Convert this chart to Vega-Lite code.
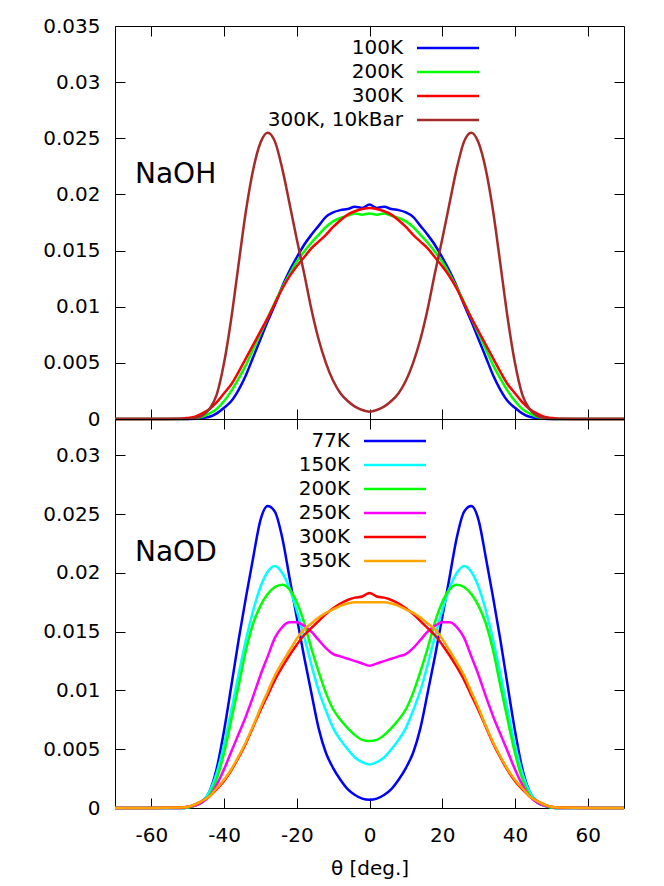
{
"$schema": "https://vega.github.io/schema/vega-lite/v6.json",
"background": "white",
"padding": {"left": 42, "top": 15, "right": 5, "bottom": 5},
"spacing": 0,
"bounds": "flush",
"config": {
  "font": "DejaVu Sans",
  "view": {"stroke": "black", "strokeWidth": 1},
  "axis": {"grid": false, "domain": false, "tickColor": "black", "tickSize": -10, "tickWidth": 1, "labelFont": "DejaVu Sans", "labelFontSize": 20, "labelColor": "black", "titleFont": "DejaVu Sans", "titleFontSize": 20, "titleFontWeight": "normal", "titleColor": "black", "labelOverlap": false},
  "legend": {"labelFont": "DejaVu Sans", "labelFontSize": 20, "labelColor": "black", "labelAlign": "right", "labelOffset": -24, "symbolType": "M 0 0 H 12.4", "symbolSize": 100, "symbolStrokeWidth": 2.5, "rowPadding": 4, "padding": 0, "labelLimit": 300}
},
"resolve": {"scale": {"color": "independent"}, "legend": {"color": "independent"}},
"datasets": {
"top": [
{"s":"100K","x":-70,"y":0},{"s":"100K","x":-60,"y":0},{"s":"100K","x":-52,"y":0},{"s":"100K","x":-50,"y":0},{"s":"100K","x":-48,"y":0.00003},{"s":"100K","x":-46,"y":0.0001},{"s":"100K","x":-44,"y":0.0002},{"s":"100K","x":-42,"y":0.0005},{"s":"100K","x":-40,"y":0.001},{"s":"100K","x":-38,"y":0.0016},{"s":"100K","x":-36,"y":0.0026},{"s":"100K","x":-34,"y":0.0039},{"s":"100K","x":-32,"y":0.0055},{"s":"100K","x":-30,"y":0.0071},{"s":"100K","x":-28,"y":0.0087},{"s":"100K","x":-26,"y":0.0102},{"s":"100K","x":-24,"y":0.0118},{"s":"100K","x":-22,"y":0.0132},{"s":"100K","x":-20,"y":0.0144},{"s":"100K","x":-18,"y":0.0155},{"s":"100K","x":-16,"y":0.0164},{"s":"100K","x":-14,"y":0.0172},{"s":"100K","x":-12,"y":0.018},{"s":"100K","x":-10,"y":0.0184},{"s":"100K","x":-8,"y":0.0186},{"s":"100K","x":-6,"y":0.0187},{"s":"100K","x":-4,"y":0.0189},{"s":"100K","x":-2,"y":0.0188},{"s":"100K","x":0,"y":0.0191},{"s":"100K","x":2,"y":0.0188},{"s":"100K","x":4,"y":0.0189},{"s":"100K","x":6,"y":0.0187},{"s":"100K","x":8,"y":0.0186},{"s":"100K","x":10,"y":0.0184},{"s":"100K","x":12,"y":0.018},{"s":"100K","x":14,"y":0.0172},{"s":"100K","x":16,"y":0.0164},{"s":"100K","x":18,"y":0.0155},{"s":"100K","x":20,"y":0.0144},{"s":"100K","x":22,"y":0.0132},{"s":"100K","x":24,"y":0.0118},{"s":"100K","x":26,"y":0.0102},{"s":"100K","x":28,"y":0.0087},{"s":"100K","x":30,"y":0.0071},{"s":"100K","x":32,"y":0.0055},{"s":"100K","x":34,"y":0.0039},{"s":"100K","x":36,"y":0.0026},{"s":"100K","x":38,"y":0.0016},{"s":"100K","x":40,"y":0.001},{"s":"100K","x":42,"y":0.0005},{"s":"100K","x":44,"y":0.0002},{"s":"100K","x":46,"y":0.0001},{"s":"100K","x":48,"y":0.00003},{"s":"100K","x":50,"y":0},{"s":"100K","x":52,"y":0},{"s":"100K","x":60,"y":0},{"s":"100K","x":70,"y":0},
{"s":"200K","x":-70,"y":0},{"s":"200K","x":-60,"y":0},{"s":"200K","x":-52,"y":0},{"s":"200K","x":-50,"y":0.00003},{"s":"200K","x":-48,"y":0.0001},{"s":"200K","x":-46,"y":0.0002},{"s":"200K","x":-44,"y":0.0005},{"s":"200K","x":-42,"y":0.0009},{"s":"200K","x":-40,"y":0.0016},{"s":"200K","x":-38,"y":0.0025},{"s":"200K","x":-36,"y":0.0036},{"s":"200K","x":-34,"y":0.0048},{"s":"200K","x":-32,"y":0.0062},{"s":"200K","x":-30,"y":0.0076},{"s":"200K","x":-28,"y":0.009},{"s":"200K","x":-26,"y":0.0104},{"s":"200K","x":-24,"y":0.0117},{"s":"200K","x":-22,"y":0.0129},{"s":"200K","x":-20,"y":0.014},{"s":"200K","x":-18,"y":0.0149},{"s":"200K","x":-16,"y":0.0157},{"s":"200K","x":-14,"y":0.0164},{"s":"200K","x":-12,"y":0.0171},{"s":"200K","x":-10,"y":0.0176},{"s":"200K","x":-8,"y":0.0179},{"s":"200K","x":-6,"y":0.0181},{"s":"200K","x":-4,"y":0.0183},{"s":"200K","x":-2,"y":0.0182},{"s":"200K","x":0,"y":0.0183},{"s":"200K","x":2,"y":0.0182},{"s":"200K","x":4,"y":0.0183},{"s":"200K","x":6,"y":0.0181},{"s":"200K","x":8,"y":0.0179},{"s":"200K","x":10,"y":0.0176},{"s":"200K","x":12,"y":0.0171},{"s":"200K","x":14,"y":0.0164},{"s":"200K","x":16,"y":0.0157},{"s":"200K","x":18,"y":0.0149},{"s":"200K","x":20,"y":0.014},{"s":"200K","x":22,"y":0.0129},{"s":"200K","x":24,"y":0.0117},{"s":"200K","x":26,"y":0.0104},{"s":"200K","x":28,"y":0.009},{"s":"200K","x":30,"y":0.0076},{"s":"200K","x":32,"y":0.0062},{"s":"200K","x":34,"y":0.0048},{"s":"200K","x":36,"y":0.0036},{"s":"200K","x":38,"y":0.0025},{"s":"200K","x":40,"y":0.0016},{"s":"200K","x":42,"y":0.0009},{"s":"200K","x":44,"y":0.0005},{"s":"200K","x":46,"y":0.0002},{"s":"200K","x":48,"y":0.0001},{"s":"200K","x":50,"y":0.00003},{"s":"200K","x":52,"y":0},{"s":"200K","x":60,"y":0},{"s":"200K","x":70,"y":0},
{"s":"300K","x":-70,"y":0},{"s":"300K","x":-60,"y":0},{"s":"300K","x":-52,"y":0.00003},{"s":"300K","x":-50,"y":0.0001},{"s":"300K","x":-48,"y":0.0002},{"s":"300K","x":-46,"y":0.0005},{"s":"300K","x":-44,"y":0.0009},{"s":"300K","x":-42,"y":0.0015},{"s":"300K","x":-40,"y":0.0023},{"s":"300K","x":-38,"y":0.0031},{"s":"300K","x":-36,"y":0.0042},{"s":"300K","x":-34,"y":0.0054},{"s":"300K","x":-32,"y":0.0066},{"s":"300K","x":-30,"y":0.0078},{"s":"300K","x":-28,"y":0.009},{"s":"300K","x":-26,"y":0.0103},{"s":"300K","x":-24,"y":0.0116},{"s":"300K","x":-22,"y":0.0127},{"s":"300K","x":-20,"y":0.0136},{"s":"300K","x":-18,"y":0.0144},{"s":"300K","x":-16,"y":0.0152},{"s":"300K","x":-14,"y":0.0158},{"s":"300K","x":-12,"y":0.0164},{"s":"300K","x":-10,"y":0.0171},{"s":"300K","x":-8,"y":0.0177},{"s":"300K","x":-6,"y":0.0182},{"s":"300K","x":-4,"y":0.0185},{"s":"300K","x":-2,"y":0.0187},{"s":"300K","x":0,"y":0.0188},{"s":"300K","x":2,"y":0.0187},{"s":"300K","x":4,"y":0.0185},{"s":"300K","x":6,"y":0.0182},{"s":"300K","x":8,"y":0.0177},{"s":"300K","x":10,"y":0.0171},{"s":"300K","x":12,"y":0.0164},{"s":"300K","x":14,"y":0.0158},{"s":"300K","x":16,"y":0.0152},{"s":"300K","x":18,"y":0.0144},{"s":"300K","x":20,"y":0.0136},{"s":"300K","x":22,"y":0.0127},{"s":"300K","x":24,"y":0.0116},{"s":"300K","x":26,"y":0.0103},{"s":"300K","x":28,"y":0.009},{"s":"300K","x":30,"y":0.0078},{"s":"300K","x":32,"y":0.0066},{"s":"300K","x":34,"y":0.0054},{"s":"300K","x":36,"y":0.0042},{"s":"300K","x":38,"y":0.0031},{"s":"300K","x":40,"y":0.0023},{"s":"300K","x":42,"y":0.0015},{"s":"300K","x":44,"y":0.0009},{"s":"300K","x":46,"y":0.0005},{"s":"300K","x":48,"y":0.0002},{"s":"300K","x":50,"y":0.0001},{"s":"300K","x":52,"y":0.00003},{"s":"300K","x":60,"y":0},{"s":"300K","x":70,"y":0},
{"s":"300K, 10kBar","x":-70,"y":0},{"s":"300K, 10kBar","x":-60,"y":0},{"s":"300K, 10kBar","x":-52,"y":0},{"s":"300K, 10kBar","x":-50,"y":0},{"s":"300K, 10kBar","x":-48,"y":0.0001},{"s":"300K, 10kBar","x":-46,"y":0.0003},{"s":"300K, 10kBar","x":-44,"y":0.0009},{"s":"300K, 10kBar","x":-42,"y":0.0022},{"s":"300K, 10kBar","x":-40,"y":0.005},{"s":"300K, 10kBar","x":-38,"y":0.009},{"s":"300K, 10kBar","x":-36,"y":0.0138},{"s":"300K, 10kBar","x":-34,"y":0.0185},{"s":"300K, 10kBar","x":-32,"y":0.0222},{"s":"300K, 10kBar","x":-30,"y":0.0246},{"s":"300K, 10kBar","x":-28,"y":0.0255},{"s":"300K, 10kBar","x":-26,"y":0.0247},{"s":"300K, 10kBar","x":-24,"y":0.0223},{"s":"300K, 10kBar","x":-22,"y":0.0192},{"s":"300K, 10kBar","x":-20,"y":0.016},{"s":"300K, 10kBar","x":-18,"y":0.013},{"s":"300K, 10kBar","x":-16,"y":0.0098},{"s":"300K, 10kBar","x":-14,"y":0.0071},{"s":"300K, 10kBar","x":-12,"y":0.005},{"s":"300K, 10kBar","x":-10,"y":0.0034},{"s":"300K, 10kBar","x":-8,"y":0.0023},{"s":"300K, 10kBar","x":-6,"y":0.0016},{"s":"300K, 10kBar","x":-4,"y":0.0011},{"s":"300K, 10kBar","x":-2,"y":0.0008},{"s":"300K, 10kBar","x":0,"y":0.00065},{"s":"300K, 10kBar","x":2,"y":0.0008},{"s":"300K, 10kBar","x":4,"y":0.0011},{"s":"300K, 10kBar","x":6,"y":0.0016},{"s":"300K, 10kBar","x":8,"y":0.0023},{"s":"300K, 10kBar","x":10,"y":0.0034},{"s":"300K, 10kBar","x":12,"y":0.005},{"s":"300K, 10kBar","x":14,"y":0.0071},{"s":"300K, 10kBar","x":16,"y":0.0098},{"s":"300K, 10kBar","x":18,"y":0.013},{"s":"300K, 10kBar","x":20,"y":0.016},{"s":"300K, 10kBar","x":22,"y":0.0192},{"s":"300K, 10kBar","x":24,"y":0.0223},{"s":"300K, 10kBar","x":26,"y":0.0247},{"s":"300K, 10kBar","x":28,"y":0.0255},{"s":"300K, 10kBar","x":30,"y":0.0246},{"s":"300K, 10kBar","x":32,"y":0.0222},{"s":"300K, 10kBar","x":34,"y":0.0185},{"s":"300K, 10kBar","x":36,"y":0.0138},{"s":"300K, 10kBar","x":38,"y":0.009},{"s":"300K, 10kBar","x":40,"y":0.005},{"s":"300K, 10kBar","x":42,"y":0.0022},{"s":"300K, 10kBar","x":44,"y":0.0009},{"s":"300K, 10kBar","x":46,"y":0.0003},{"s":"300K, 10kBar","x":48,"y":0.0001},{"s":"300K, 10kBar","x":50,"y":0},{"s":"300K, 10kBar","x":52,"y":0},{"s":"300K, 10kBar","x":60,"y":0},{"s":"300K, 10kBar","x":70,"y":0}
],
"bottom": [
{"s":"77K","x":-70,"y":0},{"s":"77K","x":-60,"y":0},{"s":"77K","x":-52,"y":0},{"s":"77K","x":-50,"y":0.00005},{"s":"77K","x":-48,"y":0.0002},{"s":"77K","x":-46,"y":0.0005},{"s":"77K","x":-44,"y":0.0014},{"s":"77K","x":-42,"y":0.0034},{"s":"77K","x":-40,"y":0.0066},{"s":"77K","x":-38,"y":0.0104},{"s":"77K","x":-36,"y":0.0143},{"s":"77K","x":-34,"y":0.0179},{"s":"77K","x":-32,"y":0.0213},{"s":"77K","x":-30,"y":0.0245},{"s":"77K","x":-28,"y":0.0257},{"s":"77K","x":-26,"y":0.0252},{"s":"77K","x":-24,"y":0.023},{"s":"77K","x":-22,"y":0.0196},{"s":"77K","x":-20,"y":0.0162},{"s":"77K","x":-18,"y":0.0129},{"s":"77K","x":-16,"y":0.0098},{"s":"77K","x":-14,"y":0.0068},{"s":"77K","x":-12,"y":0.0047},{"s":"77K","x":-10,"y":0.0034},{"s":"77K","x":-8,"y":0.0024},{"s":"77K","x":-6,"y":0.0016},{"s":"77K","x":-4,"y":0.0011},{"s":"77K","x":-2,"y":0.0008},{"s":"77K","x":0,"y":0.0007},{"s":"77K","x":2,"y":0.0008},{"s":"77K","x":4,"y":0.0011},{"s":"77K","x":6,"y":0.0016},{"s":"77K","x":8,"y":0.0024},{"s":"77K","x":10,"y":0.0034},{"s":"77K","x":12,"y":0.0047},{"s":"77K","x":14,"y":0.0068},{"s":"77K","x":16,"y":0.0098},{"s":"77K","x":18,"y":0.0129},{"s":"77K","x":20,"y":0.0162},{"s":"77K","x":22,"y":0.0196},{"s":"77K","x":24,"y":0.023},{"s":"77K","x":26,"y":0.0252},{"s":"77K","x":28,"y":0.0257},{"s":"77K","x":30,"y":0.0245},{"s":"77K","x":32,"y":0.0213},{"s":"77K","x":34,"y":0.0179},{"s":"77K","x":36,"y":0.0143},{"s":"77K","x":38,"y":0.0104},{"s":"77K","x":40,"y":0.0066},{"s":"77K","x":42,"y":0.0034},{"s":"77K","x":44,"y":0.0014},{"s":"77K","x":46,"y":0.0005},{"s":"77K","x":48,"y":0.0002},{"s":"77K","x":50,"y":0.00005},{"s":"77K","x":52,"y":0},{"s":"77K","x":60,"y":0},{"s":"77K","x":70,"y":0},
{"s":"150K","x":-70,"y":0},{"s":"150K","x":-60,"y":0},{"s":"150K","x":-52,"y":0},{"s":"150K","x":-50,"y":0.00005},{"s":"150K","x":-48,"y":0.0002},{"s":"150K","x":-46,"y":0.0006},{"s":"150K","x":-44,"y":0.0014},{"s":"150K","x":-42,"y":0.003},{"s":"150K","x":-40,"y":0.0054},{"s":"150K","x":-38,"y":0.0083},{"s":"150K","x":-36,"y":0.0114},{"s":"150K","x":-34,"y":0.0143},{"s":"150K","x":-32,"y":0.0168},{"s":"150K","x":-30,"y":0.0188},{"s":"150K","x":-28,"y":0.0201},{"s":"150K","x":-26,"y":0.0206},{"s":"150K","x":-24,"y":0.02},{"s":"150K","x":-22,"y":0.0187},{"s":"150K","x":-20,"y":0.0168},{"s":"150K","x":-18,"y":0.0146},{"s":"150K","x":-16,"y":0.0122},{"s":"150K","x":-14,"y":0.01},{"s":"150K","x":-12,"y":0.0083},{"s":"150K","x":-10,"y":0.0068},{"s":"150K","x":-8,"y":0.0058},{"s":"150K","x":-6,"y":0.005},{"s":"150K","x":-4,"y":0.0043},{"s":"150K","x":-2,"y":0.0039},{"s":"150K","x":0,"y":0.0037},{"s":"150K","x":2,"y":0.0039},{"s":"150K","x":4,"y":0.0043},{"s":"150K","x":6,"y":0.005},{"s":"150K","x":8,"y":0.0058},{"s":"150K","x":10,"y":0.0068},{"s":"150K","x":12,"y":0.0083},{"s":"150K","x":14,"y":0.01},{"s":"150K","x":16,"y":0.0122},{"s":"150K","x":18,"y":0.0146},{"s":"150K","x":20,"y":0.0168},{"s":"150K","x":22,"y":0.0187},{"s":"150K","x":24,"y":0.02},{"s":"150K","x":26,"y":0.0206},{"s":"150K","x":28,"y":0.0201},{"s":"150K","x":30,"y":0.0188},{"s":"150K","x":32,"y":0.0168},{"s":"150K","x":34,"y":0.0143},{"s":"150K","x":36,"y":0.0114},{"s":"150K","x":38,"y":0.0083},{"s":"150K","x":40,"y":0.0054},{"s":"150K","x":42,"y":0.003},{"s":"150K","x":44,"y":0.0014},{"s":"150K","x":46,"y":0.0006},{"s":"150K","x":48,"y":0.0002},{"s":"150K","x":50,"y":0.00005},{"s":"150K","x":52,"y":0},{"s":"150K","x":60,"y":0},{"s":"150K","x":70,"y":0},
{"s":"200K","x":-70,"y":0},{"s":"200K","x":-60,"y":0},{"s":"200K","x":-52,"y":0},{"s":"200K","x":-50,"y":0.00005},{"s":"200K","x":-48,"y":0.0002},{"s":"200K","x":-46,"y":0.0005},{"s":"200K","x":-44,"y":0.0011},{"s":"200K","x":-42,"y":0.0025},{"s":"200K","x":-40,"y":0.0047},{"s":"200K","x":-38,"y":0.0075},{"s":"200K","x":-36,"y":0.0104},{"s":"200K","x":-34,"y":0.0134},{"s":"200K","x":-32,"y":0.0157},{"s":"200K","x":-30,"y":0.0172},{"s":"200K","x":-28,"y":0.0182},{"s":"200K","x":-26,"y":0.0188},{"s":"200K","x":-24,"y":0.019},{"s":"200K","x":-22,"y":0.0186},{"s":"200K","x":-20,"y":0.0175},{"s":"200K","x":-18,"y":0.0158},{"s":"200K","x":-16,"y":0.0136},{"s":"200K","x":-14,"y":0.0116},{"s":"200K","x":-12,"y":0.0098},{"s":"200K","x":-10,"y":0.0084},{"s":"200K","x":-8,"y":0.0075},{"s":"200K","x":-6,"y":0.0068},{"s":"200K","x":-4,"y":0.0062},{"s":"200K","x":-2,"y":0.0058},{"s":"200K","x":0,"y":0.0057},{"s":"200K","x":2,"y":0.0058},{"s":"200K","x":4,"y":0.0062},{"s":"200K","x":6,"y":0.0068},{"s":"200K","x":8,"y":0.0075},{"s":"200K","x":10,"y":0.0084},{"s":"200K","x":12,"y":0.0098},{"s":"200K","x":14,"y":0.0116},{"s":"200K","x":16,"y":0.0136},{"s":"200K","x":18,"y":0.0158},{"s":"200K","x":20,"y":0.0175},{"s":"200K","x":22,"y":0.0186},{"s":"200K","x":24,"y":0.019},{"s":"200K","x":26,"y":0.0188},{"s":"200K","x":28,"y":0.0182},{"s":"200K","x":30,"y":0.0172},{"s":"200K","x":32,"y":0.0157},{"s":"200K","x":34,"y":0.0134},{"s":"200K","x":36,"y":0.0104},{"s":"200K","x":38,"y":0.0075},{"s":"200K","x":40,"y":0.0047},{"s":"200K","x":42,"y":0.0025},{"s":"200K","x":44,"y":0.0011},{"s":"200K","x":46,"y":0.0005},{"s":"200K","x":48,"y":0.0002},{"s":"200K","x":50,"y":0.00005},{"s":"200K","x":52,"y":0},{"s":"200K","x":60,"y":0},{"s":"200K","x":70,"y":0},
{"s":"250K","x":-70,"y":0},{"s":"250K","x":-60,"y":0},{"s":"250K","x":-52,"y":0},{"s":"250K","x":-50,"y":0.0001},{"s":"250K","x":-48,"y":0.0002},{"s":"250K","x":-46,"y":0.0005},{"s":"250K","x":-44,"y":0.001},{"s":"250K","x":-42,"y":0.002},{"s":"250K","x":-40,"y":0.0033},{"s":"250K","x":-38,"y":0.0048},{"s":"250K","x":-36,"y":0.0063},{"s":"250K","x":-34,"y":0.0078},{"s":"250K","x":-32,"y":0.0095},{"s":"250K","x":-30,"y":0.0113},{"s":"250K","x":-28,"y":0.0129},{"s":"250K","x":-26,"y":0.0145},{"s":"250K","x":-24,"y":0.0154},{"s":"250K","x":-22,"y":0.0158},{"s":"250K","x":-20,"y":0.0158},{"s":"250K","x":-18,"y":0.0155},{"s":"250K","x":-16,"y":0.015},{"s":"250K","x":-14,"y":0.0143},{"s":"250K","x":-12,"y":0.0136},{"s":"250K","x":-10,"y":0.0131},{"s":"250K","x":-8,"y":0.0129},{"s":"250K","x":-6,"y":0.0127},{"s":"250K","x":-4,"y":0.0125},{"s":"250K","x":-2,"y":0.0123},{"s":"250K","x":0,"y":0.0121},{"s":"250K","x":2,"y":0.0123},{"s":"250K","x":4,"y":0.0125},{"s":"250K","x":6,"y":0.0127},{"s":"250K","x":8,"y":0.0129},{"s":"250K","x":10,"y":0.0131},{"s":"250K","x":12,"y":0.0136},{"s":"250K","x":14,"y":0.0143},{"s":"250K","x":16,"y":0.015},{"s":"250K","x":18,"y":0.0155},{"s":"250K","x":20,"y":0.0158},{"s":"250K","x":22,"y":0.0158},{"s":"250K","x":24,"y":0.0154},{"s":"250K","x":26,"y":0.0145},{"s":"250K","x":28,"y":0.0129},{"s":"250K","x":30,"y":0.0113},{"s":"250K","x":32,"y":0.0095},{"s":"250K","x":34,"y":0.0078},{"s":"250K","x":36,"y":0.0063},{"s":"250K","x":38,"y":0.0048},{"s":"250K","x":40,"y":0.0033},{"s":"250K","x":42,"y":0.002},{"s":"250K","x":44,"y":0.001},{"s":"250K","x":46,"y":0.0005},{"s":"250K","x":48,"y":0.0002},{"s":"250K","x":50,"y":0.0001},{"s":"250K","x":52,"y":0},{"s":"250K","x":60,"y":0},{"s":"250K","x":70,"y":0},
{"s":"300K","x":-70,"y":0},{"s":"300K","x":-60,"y":0},{"s":"300K","x":-52,"y":0.00004},{"s":"300K","x":-50,"y":0.0001},{"s":"300K","x":-48,"y":0.0003},{"s":"300K","x":-46,"y":0.0006},{"s":"300K","x":-44,"y":0.001},{"s":"300K","x":-42,"y":0.0016},{"s":"300K","x":-40,"y":0.0023},{"s":"300K","x":-38,"y":0.0032},{"s":"300K","x":-36,"y":0.0043},{"s":"300K","x":-34,"y":0.0055},{"s":"300K","x":-32,"y":0.0069},{"s":"300K","x":-30,"y":0.0083},{"s":"300K","x":-28,"y":0.0096},{"s":"300K","x":-26,"y":0.0109},{"s":"300K","x":-24,"y":0.012},{"s":"300K","x":-22,"y":0.013},{"s":"300K","x":-20,"y":0.0139},{"s":"300K","x":-18,"y":0.0147},{"s":"300K","x":-16,"y":0.0153},{"s":"300K","x":-14,"y":0.0159},{"s":"300K","x":-12,"y":0.0165},{"s":"300K","x":-10,"y":0.017},{"s":"300K","x":-8,"y":0.0174},{"s":"300K","x":-6,"y":0.0177},{"s":"300K","x":-4,"y":0.0179},{"s":"300K","x":-2,"y":0.018},{"s":"300K","x":0,"y":0.0183},{"s":"300K","x":2,"y":0.018},{"s":"300K","x":4,"y":0.0179},{"s":"300K","x":6,"y":0.0177},{"s":"300K","x":8,"y":0.0174},{"s":"300K","x":10,"y":0.017},{"s":"300K","x":12,"y":0.0165},{"s":"300K","x":14,"y":0.0159},{"s":"300K","x":16,"y":0.0153},{"s":"300K","x":18,"y":0.0147},{"s":"300K","x":20,"y":0.0139},{"s":"300K","x":22,"y":0.013},{"s":"300K","x":24,"y":0.012},{"s":"300K","x":26,"y":0.0109},{"s":"300K","x":28,"y":0.0096},{"s":"300K","x":30,"y":0.0083},{"s":"300K","x":32,"y":0.0069},{"s":"300K","x":34,"y":0.0055},{"s":"300K","x":36,"y":0.0043},{"s":"300K","x":38,"y":0.0032},{"s":"300K","x":40,"y":0.0023},{"s":"300K","x":42,"y":0.0016},{"s":"300K","x":44,"y":0.001},{"s":"300K","x":46,"y":0.0006},{"s":"300K","x":48,"y":0.0003},{"s":"300K","x":50,"y":0.0001},{"s":"300K","x":52,"y":0.00004},{"s":"300K","x":60,"y":0},{"s":"300K","x":70,"y":0},
{"s":"350K","x":-70,"y":0},{"s":"350K","x":-60,"y":0},{"s":"350K","x":-52,"y":0.00004},{"s":"350K","x":-50,"y":0.0001},{"s":"350K","x":-48,"y":0.0003},{"s":"350K","x":-46,"y":0.0006},{"s":"350K","x":-44,"y":0.001},{"s":"350K","x":-42,"y":0.0017},{"s":"350K","x":-40,"y":0.0024},{"s":"350K","x":-38,"y":0.0033},{"s":"350K","x":-36,"y":0.0044},{"s":"350K","x":-34,"y":0.0056},{"s":"350K","x":-32,"y":0.007},{"s":"350K","x":-30,"y":0.0085},{"s":"350K","x":-28,"y":0.0099},{"s":"350K","x":-26,"y":0.0113},{"s":"350K","x":-24,"y":0.0124},{"s":"350K","x":-22,"y":0.0134},{"s":"350K","x":-20,"y":0.0144},{"s":"350K","x":-18,"y":0.0152},{"s":"350K","x":-16,"y":0.0157},{"s":"350K","x":-14,"y":0.0162},{"s":"350K","x":-12,"y":0.0166},{"s":"350K","x":-10,"y":0.0169},{"s":"350K","x":-8,"y":0.0172},{"s":"350K","x":-6,"y":0.0174},{"s":"350K","x":-4,"y":0.0175},{"s":"350K","x":-2,"y":0.0175},{"s":"350K","x":0,"y":0.0175},{"s":"350K","x":2,"y":0.0175},{"s":"350K","x":4,"y":0.0175},{"s":"350K","x":6,"y":0.0174},{"s":"350K","x":8,"y":0.0172},{"s":"350K","x":10,"y":0.0169},{"s":"350K","x":12,"y":0.0166},{"s":"350K","x":14,"y":0.0162},{"s":"350K","x":16,"y":0.0157},{"s":"350K","x":18,"y":0.0152},{"s":"350K","x":20,"y":0.0144},{"s":"350K","x":22,"y":0.0134},{"s":"350K","x":24,"y":0.0124},{"s":"350K","x":26,"y":0.0113},{"s":"350K","x":28,"y":0.0099},{"s":"350K","x":30,"y":0.0085},{"s":"350K","x":32,"y":0.007},{"s":"350K","x":34,"y":0.0056},{"s":"350K","x":36,"y":0.0044},{"s":"350K","x":38,"y":0.0033},{"s":"350K","x":40,"y":0.0024},{"s":"350K","x":42,"y":0.0017},{"s":"350K","x":44,"y":0.001},{"s":"350K","x":46,"y":0.0006},{"s":"350K","x":48,"y":0.0003},{"s":"350K","x":50,"y":0.0001},{"s":"350K","x":52,"y":0.00004},{"s":"350K","x":60,"y":0},{"s":"350K","x":70,"y":0}
]
},
"vconcat": [
{
  "width": 509, "height": 393,
  "data": {"name": "top"},
  "resolve": {"axis": {"x": "independent", "y": "independent"}},
  "layer": [
    {
      "mark": {"type": "line", "strokeWidth": 2.5, "interpolate": "monotone"},
      "encoding": {
        "x": {"field": "x", "type": "quantitative", "scale": {"domain": [-70, 70], "nice": false, "zero": false}, "axis": {"orient": "bottom", "values": [-60, -40, -20, 0, 20, 40, 60], "labels": false, "title": null}},
        "y": {"field": "y", "type": "quantitative", "scale": {"domain": [0, 0.035], "nice": false}, "axis": {"orient": "left", "values": [0, 0.005, 0.01, 0.015, 0.02, 0.025, 0.03, 0.035], "format": "~g", "labelPadding": 25, "title": null}},
        "color": {"field": "s", "type": "nominal", "scale": {"domain": ["100K", "200K", "300K", "300K, 10kBar"], "range": ["#0000ff", "#00ff00", "#ff0000", "#a52a2a"]}, "legend": {"title": null, "orient": "none", "legendX": 292, "legendY": 12}}
      }
    },
    {
      "mark": {"type": "line", "opacity": 0},
      "encoding": {
        "x": {"field": "x", "type": "quantitative", "axis": {"orient": "top", "values": [-60, -40, -20, 0, 20, 40, 60], "labels": false, "title": null}},
        "y": {"field": "y", "type": "quantitative", "axis": {"orient": "right", "values": [0.005, 0.01, 0.015, 0.02, 0.025, 0.03], "labels": false, "title": null}}
      }
    },
    {
      "data": {"values": [{"label": "NaOH"}]},
      "mark": {"type": "text", "align": "left", "baseline": "alphabetic", "fontSize": 28, "font": "DejaVu Sans", "color": "black"},
      "encoding": {
        "x": {"datum": -64.5, "axis": null},
        "y": {"datum": 0.021, "axis": null},
        "text": {"field": "label"}
      }
    }
  ]
},
{
  "width": 509, "height": 389,
  "data": {"name": "bottom"},
  "resolve": {"axis": {"x": "independent", "y": "independent"}},
  "layer": [
    {
      "mark": {"type": "line", "strokeWidth": 2.5, "interpolate": "monotone"},
      "encoding": {
        "x": {"field": "x", "type": "quantitative", "scale": {"domain": [-70, 70], "nice": false, "zero": false}, "axis": {"orient": "bottom", "values": [-60, -40, -20, 0, 20, 40, 60], "labelExpr": "'' + datum.value", "labelPadding": 27, "title": "θ [deg.]", "titlePadding": 13}},
        "y": {"field": "y", "type": "quantitative", "scale": {"domain": [0, 0.0331], "nice": false}, "axis": {"orient": "left", "values": [0, 0.005, 0.01, 0.015, 0.02, 0.025, 0.03], "format": "~g", "labelPadding": 25, "title": null}},
        "color": {"field": "s", "type": "nominal", "scale": {"domain": ["77K", "150K", "200K", "250K", "300K", "350K"], "range": ["#0000ff", "#00ffff", "#00ff00", "#ff00ff", "#ff0000", "#ffa500"]}, "legend": {"title": null, "orient": "none", "legendX": 239, "legendY": 12}}
      }
    },
    {
      "mark": {"type": "line", "opacity": 0},
      "encoding": {
        "x": {"field": "x", "type": "quantitative", "axis": {"orient": "top", "values": [-60, -40, -20, 0, 20, 40, 60], "labels": false, "title": null}},
        "y": {"field": "y", "type": "quantitative", "axis": {"orient": "right", "values": [0.005, 0.01, 0.015, 0.02, 0.025, 0.03], "labels": false, "title": null}}
      }
    },
    {
      "data": {"values": [{"label": "NaOD"}]},
      "mark": {"type": "text", "align": "left", "baseline": "alphabetic", "fontSize": 28, "font": "DejaVu Sans", "color": "black"},
      "encoding": {
        "x": {"datum": -64.5, "axis": null},
        "y": {"datum": 0.021, "axis": null},
        "text": {"field": "label"}
      }
    }
  ]
}
]
}
